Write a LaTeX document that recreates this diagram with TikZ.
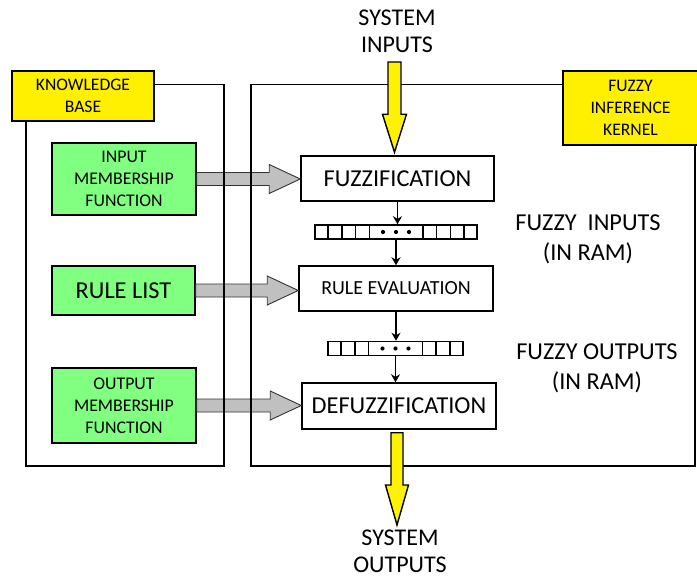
\documentclass[tikz,border=0pt]{standalone}
\usepackage{fontspec}
\setmainfont{Carlito}
\usetikzlibrary{calc, arrows.meta}
\definecolor{kbgreen}{RGB}{128, 255, 128}
\definecolor{lblyellow}{RGB}{255, 240, 0}
\definecolor{arrgray}{RGB}{192, 192, 192}

\begin{document}
\begin{tikzpicture}[x=1pt, y=-1pt, line width=1.5pt,
  frame/.style={draw, inner sep=0pt},
  greenbox/.style={draw, fill=kbgreen, inner sep=0pt, align=center},
  procbox/.style={draw, fill=white, inner sep=0pt, align=center},
  yellabel/.style={draw, fill=lblyellow, inner sep=0pt, align=center,
    font=\fontsize{17.6}{22}\selectfont},
  reg/.style={draw, fill=white, inner sep=0pt, minimum height=14},
  bigtxt/.style={font=\fontsize{24.3}{30}\selectfont},
  midtxt/.style={font=\fontsize{20}{26}\selectfont},
  systxt/.style={font=\fontsize{24}{27}\selectfont},
  smalltxt/.style={font=\fontsize{17.8}{22}\selectfont},
  grayarr/.style={fill=arrgray, draw=black!80, line width=0.9pt},
  yelarr/.style={fill=yellow, draw=black, line width=1.4pt, line join=miter},
  smallarr/.style={-{Stealth[length=8pt, width=9pt]}, line width=1.3pt}]

\useasboundingbox (0,0) rectangle (697,578);

% knowledge base side
\node[greenbox, smalltxt, minimum width=144, minimum height=72] (ipm) at (124,179)
  {INPUT\\MEMBERSHIP\\FUNCTION};
\node[greenbox, bigtxt, minimum width=143, minimum height=49] (rl) at (123.5,290.5)
  {RULE LIST};
\node[greenbox, smalltxt, minimum width=144, minimum height=75] (opm) at (124,405.5)
  {OUTPUT\\MEMBERSHIP\\FUNCTION};

% inference steps
\node[procbox, bigtxt, minimum width=193, minimum height=45] (fuz) at (397.5,178.5)
  {FUZZIFICATION};
\node[procbox, midtxt, minimum width=194, minimum height=45] (rev) at (396,288.5)
  {RULE EVALUATION};
\node[procbox, bigtxt, minimum width=194, minimum height=46] (dfz) at (399,406)
  {DEFUZZIFICATION};

\node[reg, minimum width=162] (reg1) at (396,232) {};
\node[reg, minimum width=135] (reg2) at (395.5,348.5) {};
\foreach \i in {1,...,4} {
  \draw (reg1.west) ++(\i*13.75,-7) -- ++(0,14);
  \draw (reg1.east) ++(-\i*13.75,-7) -- ++(0,14);
}
\foreach \i in {1,...,3} {
  \draw (reg2.west) ++(\i*13.8,-7) -- ++(0,14);
  \draw (reg2.east) ++(-\i*13.8,-7) -- ++(0,14);
}
\foreach \d in {-13,0,13} {
  \fill (reg1.center) ++(\d,0) circle (2.1);
  \fill (reg2.center) ++(\d,0) circle (2.1);
}

\foreach \src/\dst in {ipm/fuz, rl/rev, opm/dfz}
  \draw[grayarr] ($(\src.east)+(0,-6.5)$) -- ($(\dst.west |- \src.east)+(-31,-6.5)$)
    -- ++(0,-8) -- (\dst.west |- \src.east) -- ($(\dst.west |- \src.east)+(-31,14.5)$)
    -- ++(0,-8) -- ($(\src.east)+(0,6.5)$) -- cycle;

% frames
\node[frame, minimum width=198, minimum height=381, anchor=north west] (kb) at (25,84) {};
\node[frame, minimum width=444, minimum height=381, anchor=north west] (kern) at (250,84) {};

\node[yellabel, minimum width=142, minimum height=50] (kbl) at (83,96)
  {KNOWLEDGE\\BASE};
\node[yellabel, minimum width=135, minimum height=74] (fikl) at (630.5,108)
  {FUZZY\\INFERENCE\\KERNEL};

% system in / out
\coordinate (sin) at (394.5,62);
\coordinate (tin) at ($(sin |- fuz.north)+(0,-3)$);
\draw[yelarr] ($(sin)+(-6.5,0)$) -- ($(tin)+(-6.5,-38)$) -- ($(tin)+(-12,-38)$)
  -- (tin) -- ($(tin)+(12,-38)$) -- ($(tin)+(6.5,-38)$) -- ($(sin)+(6.5,0)$) -- cycle;
\coordinate (sout) at (397,525);
\coordinate (sst) at ($(dfz.south -| sout)+(0,3)$);
\draw[yelarr] ($(sst)+(-6,0)$) -- ($(sout)+(-6,-40)$) -- ($(sout)+(-11.5,-40)$)
  -- (sout) -- ($(sout)+(11.5,-40)$) -- ($(sout)+(6,-40)$) -- ($(sst)+(6,0)$) -- cycle;

\foreach \a/\b in {fuz/reg1, reg1/rev, rev/reg2, reg2/dfz}
  \draw[smallarr] (\a.south) -- (\a.south |- \b.north);

\node[systxt, align=center] (sysin) at (397,31) {SYSTEM\\INPUTS};
\node[systxt, align=center] (sysout) at (400,551) {SYSTEM\\OUTPUTS};
\node[bigtxt, align=center] (fin) at (588,239) {FUZZY\ \ INPUTS\\(IN RAM)};
\node[bigtxt, align=center] (fout) at (597,368) {FUZZY OUTPUTS\\(IN RAM)};

\end{tikzpicture}
\end{document}
